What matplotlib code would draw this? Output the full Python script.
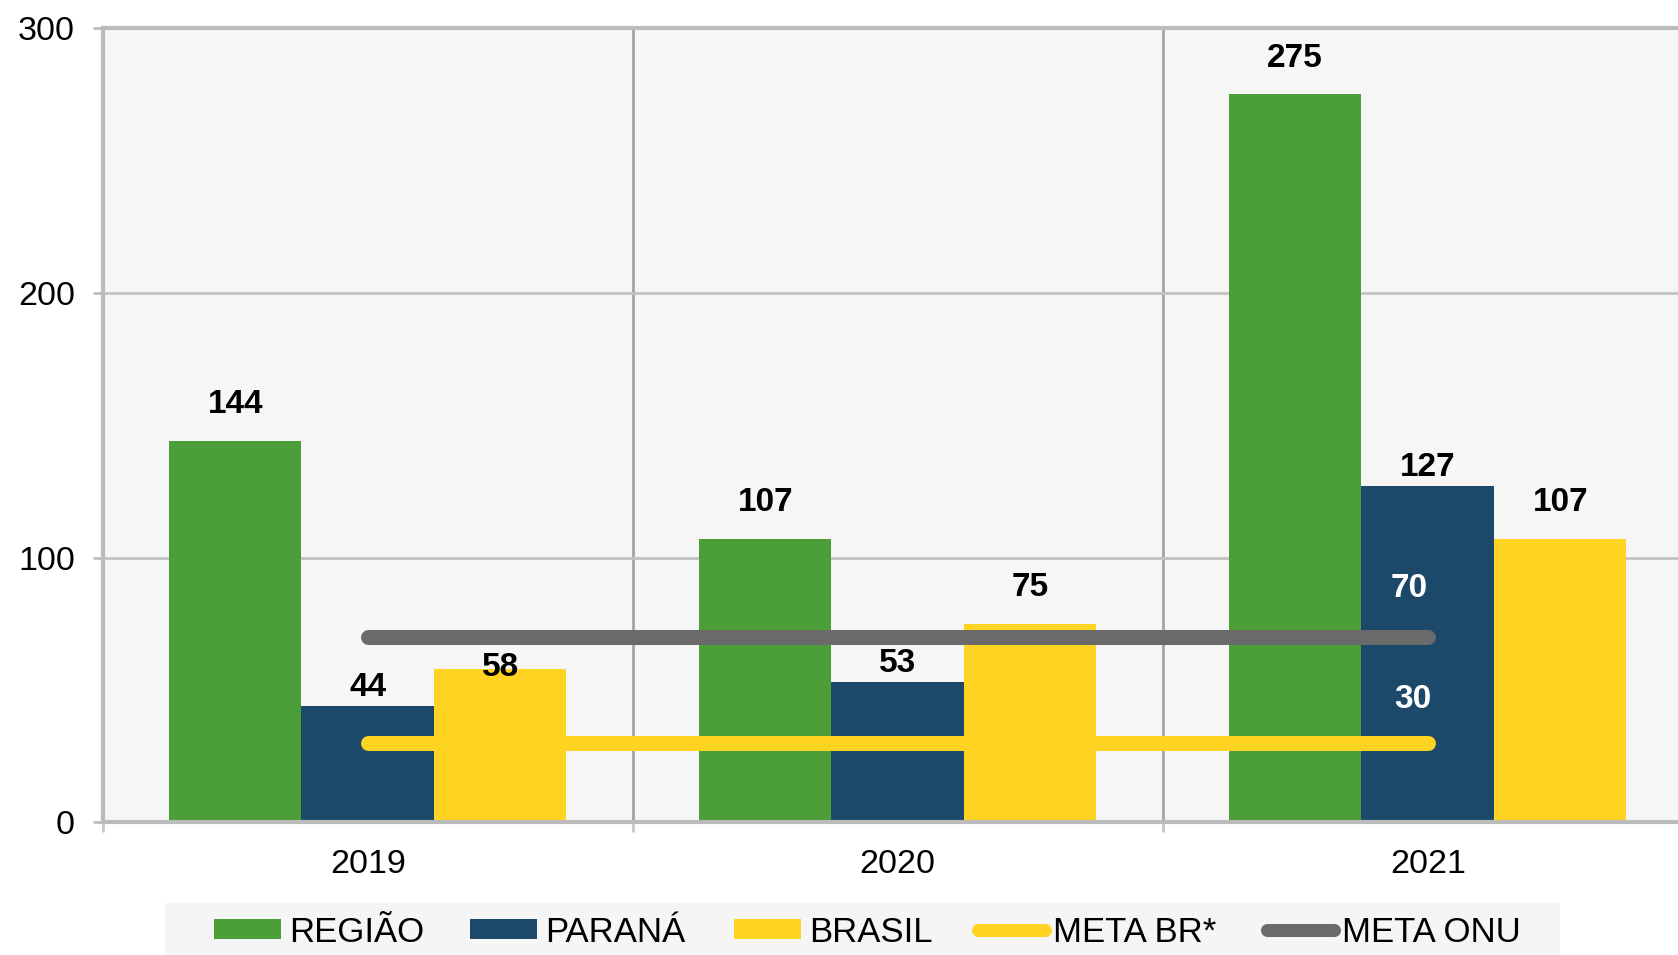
import matplotlib
matplotlib.use("Agg")
import matplotlib.pyplot as plt
from matplotlib.patches import Rectangle
import numpy as np

plt.rcParams['font.family'] = ['Liberation Sans', 'DejaVu Sans']

years = ["2019", "2020", "2021"]
regiao = [144, 107, 275]
parana = [44, 53, 127]
brasil = [58, 75, 107]
meta_br = 30
meta_onu = 70
series_names = ["REGIÃO", "PARANÁ", "BRASIL", "META BR*", "META ONU"]
yticks = [0, 100, 200, 300]

c_green = "#4c9e39"
c_navy = "#1c486a"
c_yellow = "#fed321"
c_gray = "#6a6a6a"

W, H = 1678, 955
L, T, B, PITCH = 102.7, 28.0, 822.3, 530.0
fig = plt.figure(figsize=(W / 100, H / 100), dpi=100)
ax = fig.add_axes([L / W, 1 - B / H, 1 - L / W, (B - T) / H])
ax.set_facecolor("#f6f6f6")

x = np.arange(len(years))
bw = 0.25
b1 = ax.bar(x - bw, regiao, bw, color=c_green, zorder=2)
b2 = ax.bar(x, parana, bw, color=c_navy, zorder=2)
b3 = ax.bar(x + bw, brasil, bw, color=c_yellow, zorder=2)

lw = 10.8
l1, = ax.plot([x[0], x[-1]], [meta_br, meta_br], color=c_yellow, lw=lw,
              solid_capstyle='round', zorder=3)
l2, = ax.plot([x[0], x[-1]], [meta_onu, meta_onu], color=c_gray, lw=lw,
              solid_capstyle='round', zorder=3)

# bar value labels (offsets in points)
lab_fs = 24
off_g, off_n, off_y, off_y0 = 26, 13.5, 26, 1
for i in range(len(years)):
    ax.annotate(str(regiao[i]), (x[i] - bw, regiao[i]), xytext=(0, off_g),
                textcoords='offset points', ha='center', va='center',
                fontsize=lab_fs, fontweight='bold', zorder=5)
    ax.annotate(str(parana[i]), (x[i], parana[i]), xytext=(0, off_n),
                textcoords='offset points', ha='center', va='center',
                fontsize=lab_fs, fontweight='bold', zorder=5)
    yo = off_y0 if i == 0 else off_y
    ax.annotate(str(brasil[i]), (x[i] + bw, brasil[i]), xytext=(0, yo),
                textcoords='offset points', ha='center', va='center',
                fontsize=lab_fs, fontweight='bold', zorder=5)

ax.annotate(str(meta_onu), (x[-1], meta_onu), xytext=(0, 35),
            textcoords='offset points', ha='right', va='center',
            fontsize=lab_fs, fontweight='bold', color='white', zorder=5)
ax.annotate(str(meta_br), (x[-1], meta_br), xytext=(3, 31),
            textcoords='offset points', ha='right', va='center',
            fontsize=lab_fs, fontweight='bold', color='white', zorder=5)

ax.set_yticks(yticks)
ax.set_yticklabels([str(t) for t in yticks], fontsize=24.5)
ax.tick_params(axis='y', length=7, width=2, color="#bdbdbd", pad=13)

ax.set_xticks([-0.5, 0.5, 1.5, 2.5])
ax.set_xticklabels([])
ax.tick_params(axis='x', which='major', length=7, width=2, color="#c8c8c8", direction='out')
ax.set_xticks(x, minor=True)
ax.set_xticklabels(years, minor=True, fontsize=24.5)
ax.tick_params(axis='x', which='minor', length=0, pad=19)

ax.grid(axis='y', color="#c2c2c2", lw=2, zorder=0)
for xv in [0.5, 1.5]:
    ax.axvline(xv, color="#a4a4a4", lw=2, zorder=0)
ax.set_axisbelow(True)

# limits set last so tick setting cannot expand them
ax.set_ylim(0, 300)
ax.set_xlim(-0.5, -0.5 + (W - L) / PITCH)

ax.spines['right'].set_visible(False)
for s in ['left', 'bottom', 'top']:
    ax.spines[s].set_color("#bbbbbb")
    ax.spines[s].set_linewidth(3)

# legend background box
fig.patches.append(Rectangle((164.7 / W, 0), (1560 - 164.7) / W, 1 - 903.3 / H,
                             transform=fig.transFigure, facecolor="#f5f5f5",
                             edgecolor='none', zorder=0))
handles = [b1, b2, b3, l1, l2]
leg_x = [214.3, 470.0, 734.0, 978.0, 1267.0]
for h, name, lx in zip(handles, series_names, leg_x):
    lg = fig.legend([h], [name], loc='center left',
                    bbox_to_anchor=(lx / W, 1 - 932 / H), frameon=False,
                    fontsize=25, handlelength=1.93, handletextpad=0.23,
                    borderpad=0, borderaxespad=0, handleheight=0.49)
    for lh in lg.legend_handles:
        if hasattr(lh, 'set_linewidth') and not hasattr(lh, 'get_width'):
            lh.set_linewidth(9.4)

fig.savefig("out.png", dpi=100, facecolor='white')
